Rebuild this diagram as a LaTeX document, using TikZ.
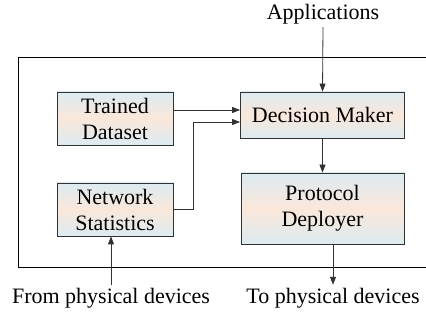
\documentclass[tikz,border=0pt]{standalone}
\usepackage{fontspec}
\setmainfont{Liberation Serif}
\usetikzlibrary{arrows.meta}
\definecolor{boxblue}{RGB}{220,235,241}
\definecolor{boxpeach}{RGB}{250,231,218}
\definecolor{linegray}{RGB}{50,50,50}

\begin{document}
\begin{tikzpicture}[x=1pt, y=-1pt,
  block/.style={draw=linegray, line width=0.8pt, top color=boxblue, bottom color=boxblue, middle color=boxpeach, align=center, inner sep=0pt},
  label/.style={inner sep=3pt},
  flow/.style={draw=linegray, line width=0.8pt, -{Triangle[length=8pt, width=6pt]}},
  font=\rmfamily\fontsize{22}{26}\selectfont]
\useasboundingbox (0,0) rectangle (426,320);
\clip (0,0) rectangle (426,320);
% controller frame
\draw[line width=0.8pt] (440,57) -- (18,57) -- (18,267) -- (440,267);
% blocks
\node[block, minimum width=116pt, minimum height=53pt] (dataset) at (115,118.5) {Trained\\Dataset};
\node[block, minimum width=116pt, minimum height=53pt] (stats) at (115,209.5) {Network\\Statistics};
\node[block, minimum width=164pt, minimum height=46pt] (decision) at (322.5,115) {Decision Maker};
\node[block, minimum width=163pt, minimum height=71pt] (deployer) at (322.5,208.5) {Protocol\\Deployer};
% outside texts
\node[label] (apps) at (323,14) {Applications};
\node[label] (from) at (111,298) {From physical devices};
\node[label] (to) at (333,298) {To physical devices};
% inputs of the decision maker
\coordinate (in1) at ([yshift=5pt]decision.west);
\coordinate (in2) at ([yshift=-7pt]decision.west);
% connectors
\draw[flow] (apps.south) -- (decision.north);
\draw[flow] (dataset.east |- in1) -- (in1);
\draw[flow] (stats.east) -- ++(20,0) |- (in2);
\draw[flow] (decision.south) -- (deployer.north);
\draw[flow] (deployer.south -| to.north) -- (to.north);
\draw[flow] (from.north) -- (stats.south -| from.north);
\end{tikzpicture}
\end{document}
